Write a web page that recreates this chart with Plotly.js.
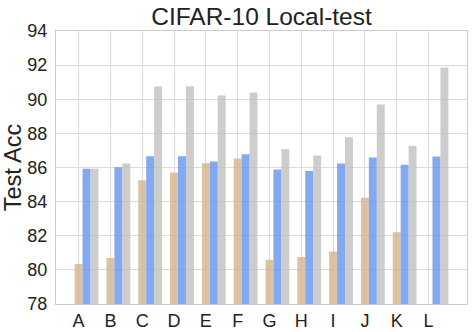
<!DOCTYPE html>
<html>
<head>
<meta charset="utf-8">
<script src="https://cdn.plot.ly/plotly-3.0.1.min.js"></script>
<style>
  html, body { margin: 0; padding: 0; background: #fff; }
  #myDiv { width: 474px; height: 332px; }
</style>
</head>
<body>
<div id="myDiv"></div>
<script>
// values
var categories = ['A', 'B', 'C', 'D', 'E', 'F', 'G', 'H', 'I', 'J', 'K', 'L'];
var tanVals = [80.34, 80.69, 85.26, 85.71, 86.25, 86.53, 80.60, 80.75, 81.08, 84.22, 82.21, null];
var blueVals = [85.92, 86.02, 86.66, 86.66, 86.35, 86.78, 85.88, 85.79, 86.23, 86.58, 86.16, 86.64];
var grayVals = [85.92, 86.23, 90.74, 90.76, 90.22, 90.39, 87.07, 86.70, 87.78, 89.69, 87.27, 91.86];
var yTicks = [78, 80, 82, 84, 86, 88, 90, 92, 94];

var barW = 0.25;

function makeTrace(vals, color, k) {
    return {
        x: categories,
        y: vals,
        type: 'bar',
        width: barW,
        offset: -barW / 2 + k * barW,
        marker: {color: color, opacity: 0.8, line: {width: 0}},
        hoverinfo: 'x+y',
        showlegend: false
    };
}

var data = [
    makeTrace(tanVals, '#D2B48C', 0),
    makeTrace(blueVals, '#6495ED', 1),
    makeTrace(grayVals, '#C0C0C0', 2)
];

var layout = {
    width: 474,
    height: 332,
    margin: {l: 56, r: 7, t: 31, b: 28},
    paper_bgcolor: '#ffffff',
    plot_bgcolor: '#ffffff',
    barmode: 'overlay',
    font: {family: 'Liberation Sans, Arial, sans-serif', color: '#222222', size: 18},
    title: {
        text: 'CIFAR-10 Local-test',
        font: {size: 24.5, color: '#222222'},
        x: 0.5, xref: 'paper', xanchor: 'center',
        y: 0.952, yanchor: 'middle'
    },
    xaxis: {
        type: 'category',
        range: [-0.71, 12.21],
        showgrid: true,
        gridcolor: '#dcdcdc',
        gridwidth: 1,
        showline: true,
        linecolor: '#cccccc',
        linewidth: 1,
        mirror: true,
        ticks: '',
        ticklabelstandoff: 0,
        tickfont: {size: 18, color: '#222222'},
        zeroline: false
    },
    yaxis: {
        range: [78, 94],
        tickvals: yTicks,
        showgrid: true,
        gridcolor: '#dcdcdc',
        gridwidth: 1,
        showline: true,
        linecolor: '#cccccc',
        linewidth: 1,
        mirror: true,
        ticks: '',
        ticklabelstandoff: 4,
        tickfont: {size: 18, color: '#222222'},
        zeroline: false,
        title: {text: 'Test Acc', font: {size: 23.5, color: '#222222'}, standoff: 5}
    }
};

Plotly.newPlot('myDiv', data, layout, {staticPlot: true});
</script>
</body>
</html>
